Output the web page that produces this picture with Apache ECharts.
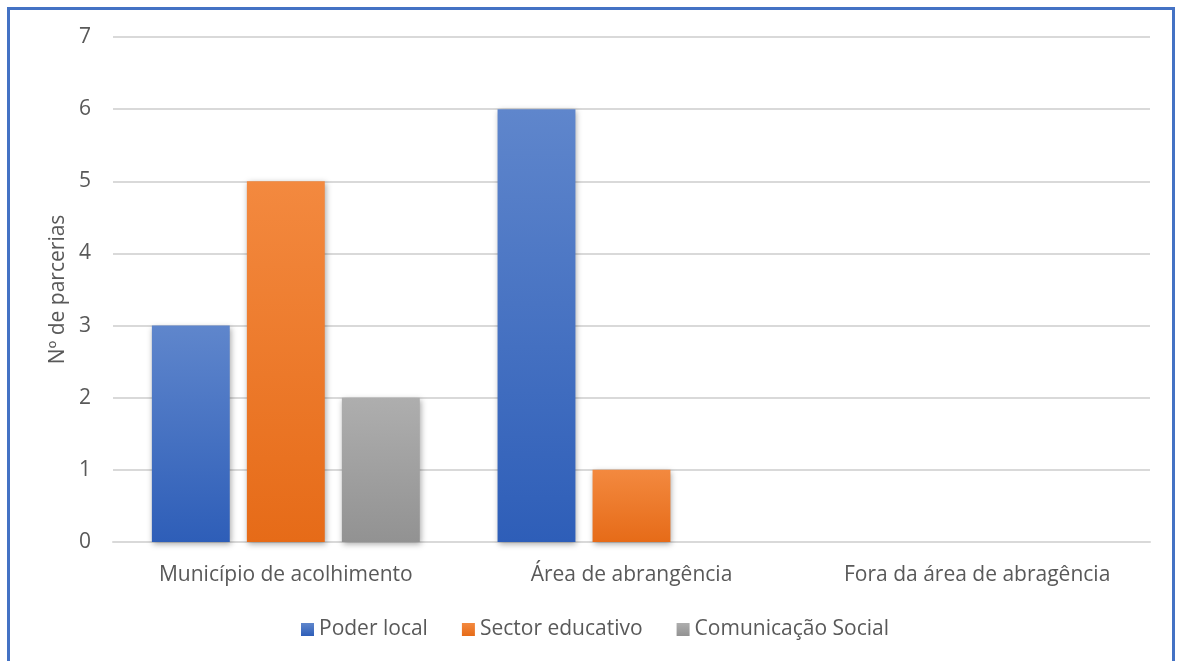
<!DOCTYPE html>
<html>
<head>
<meta charset="utf-8">
<script src="https://cdn.jsdelivr.net/npm/echarts@6/dist/echarts.min.js"></script>
<style>
    html, body {
        margin: 0;
        padding: 0;
        background: #fff;
    }

    .frame {
        position: absolute;
        left: 7px;
        top: 7px;
        width: 1168px;
        height: 660px;
        border: 3px solid #4472c4;
        border-bottom: none;
        box-sizing: border-box;
    }

    #chart {
        position: absolute;
        left: 0;
        top: 0;
        width: 1179px;
        height: 661px;
    }
</style>
</head>
<body>
<div class="frame"></div>
<div id="chart"></div>
<script>
// categorias e valores
const categories = ["Município de acolhimento", "Área de abrangência", "Fora da área de abragência"];
const poderLocal = [3, 6, 0];
const sectorEducativo = [5, 1, 0];
const comunicacaoSocial = [2, 0, 0];
const yTicks = [0, 1, 2, 3, 4, 5, 6, 7];

const txt = "#595959";
const font = "Open Sans";

// gradiente vertical para as barras
const grad = (top, bottom) => new echarts.graphic.LinearGradient(0, 0, 0, 1, [
    { offset: 0, color: top },
    { offset: 1, color: bottom },
]);

const barStyle = (top, bottom) => ({
    color: grad(top, bottom),
    shadowColor: "rgba(0,0,0,0.35)",
    shadowBlur: 6,
    shadowOffsetX: 1,
    shadowOffsetY: 2,
});

let myChart = echarts.init(document.getElementById("chart"));

let option = {
    animation: false,
    textStyle: { fontFamily: font },
    grid: {
        left: 113,
        right: 29,
        top: 37,
        bottom: 119,
    },
    legend: {
        bottom: 16,
        left: 296,
        itemWidth: 13,
        itemHeight: 13,
        itemGap: 34,
        icon: "rect",
        textStyle: { color: txt, fontSize: 21, fontFamily: font },
        data: ["Poder local", "Sector educativo", "Comunicação Social"],
    },
    xAxis: {
        type: "category",
        data: categories,
        axisLine: { lineStyle: { color: "#d9d9d9", width: 2 } },
        axisTick: { show: false },
        axisLabel: { color: txt, fontSize: 21, margin: 23, interval: 0 },
    },
    yAxis: {
        type: "value",
        min: yTicks[0],
        max: yTicks[yTicks.length - 1],
        interval: 1,
        name: "Nº de parcerias",
        nameLocation: "middle",
        nameGap: 43,
        nameTextStyle: { color: txt, fontSize: 21 },
        axisLine: { show: false },
        axisTick: { show: false },
        axisLabel: { color: txt, fontSize: 21, margin: 22 },
        splitLine: { lineStyle: { color: "#d9d9d9", width: 2 } },
    },
    series: [
        {
            name: "Poder local",
            type: "bar",
            data: poderLocal,
            barGap: "22%",
            barCategoryGap: "22.5%",
            itemStyle: barStyle("#5f86cc", "#2e5eb8"),
        },
        {
            name: "Sector educativo",
            type: "bar",
            data: sectorEducativo,
            itemStyle: barStyle("#f3893f", "#e66b18"),
        },
        {
            name: "Comunicação Social",
            type: "bar",
            data: comunicacaoSocial,
            itemStyle: barStyle("#aeaeae", "#929292"),
        },
    ],
};

myChart.setOption(option);
</script>
</body>
</html>
